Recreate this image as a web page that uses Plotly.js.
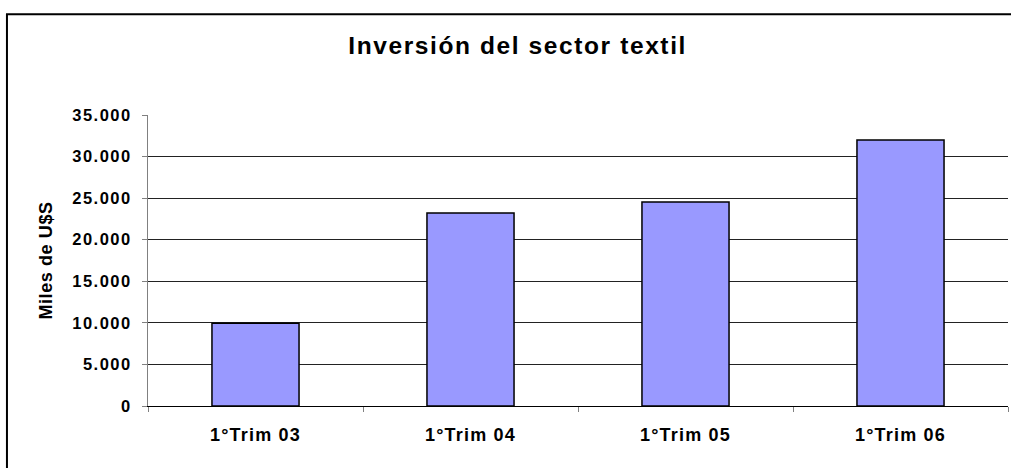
<!DOCTYPE html>
<html>
<head>
<meta charset="utf-8">
<script src="https://cdn.plot.ly/plotly-3.0.1.min.js"></script>
<style>
  html, body { margin: 0; padding: 0; background: #fff; }
  #chart { width: 1011px; height: 468px; }
  .gtitle { letter-spacing: 1.6px; }
  .ytick text { letter-spacing: 1.5px; }
  .xtick text { letter-spacing: 1.2px; }
  .ytitle { letter-spacing: 0.6px; }
</style>
</head>
<body>
<div id="chart"></div>
<script>
const categories = ["1°Trim 03", "1°Trim 04", "1°Trim 05", "1°Trim 06"];
const inversion = [9950, 23200, 24550, 32000];
const chartTitle = "Inversión del sector textil";
const yTitle = "Miles de U$S";

const font = "Arial, 'Liberation Sans', sans-serif";

const trace = {
  type: "bar",
  x: categories,
  y: inversion,
  marker: { color: "#9999FF", line: { color: "#000000", width: 1.5 } },
  hoverinfo: "x+y"
};

const layout = {
  width: 1011,
  height: 468,
  margin: { l: 148, r: 3, t: 115, b: 62, pad: 0 },
  paper_bgcolor: "#ffffff",
  plot_bgcolor: "#ffffff",
  separators: ",.",
  bargap: 0.595,
  showlegend: false,
  title: {
    text: chartTitle,
    font: { family: font, size: 24.5, color: "#000000", weight: "bold" },
    xref: "container", x: 0.512, xanchor: "center",
    yref: "container", y: 0.904, yanchor: "middle"
  },
  xaxis: {
    type: "category",
    showgrid: false,
    showline: true,
    linecolor: "#000000",
    linewidth: 1,
    ticks: "outside",
    tickson: "boundaries",
    ticklen: 5,
    tickcolor: "#808080",
    tickwidth: 1,
    ticklabelstandoff: 12,
    tickfont: { family: font, size: 18, color: "#000000", weight: "bold" },
    fixedrange: true
  },
  yaxis: {
    range: [0, 35000],
    dtick: 5000,
    tick0: 0,
    tickformat: ",d",
    showgrid: true,
    gridcolor: "#222222",
    gridwidth: 1,
    zeroline: false,
    showline: true,
    linecolor: "#808080",
    linewidth: 1,
    ticks: "outside",
    ticklen: 5,
    tickcolor: "#808080",
    ticklabelstandoff: 7,
    tickfont: { family: font, size: 16.5, color: "#000000", weight: "bold" },
    title: {
      text: yTitle,
      font: { family: font, size: 18, color: "#000000", weight: "bold" },
      standoff: 14
    },
    fixedrange: true
  },
  shapes: [{
    type: "rect",
    xref: "paper", yref: "paper",
    x0: -0.1640, x1: 1.6,
    y0: -1.0, y1: 1.3465,
    line: { color: "#000000", width: 2 },
    fillcolor: "rgba(0,0,0,0)",
    layer: "above"
  }]
};

Plotly.newPlot("chart", [trace], layout, { displayModeBar: false, staticPlot: true });
</script>
</body>
</html>
